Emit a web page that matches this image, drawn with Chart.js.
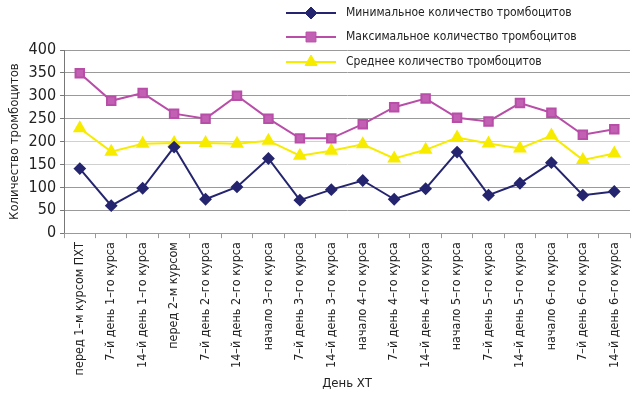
<!DOCTYPE html>
<html>
<head>
<meta charset="utf-8">
<script src="https://cdn.jsdelivr.net/npm/chart.js@4.4.1/dist/chart.umd.min.js"></script>
<style>
  html, body { margin: 0; padding: 0; background: #fff; }
  #wrap { width: 638px; height: 395px; }
</style>
</head>
<body>
<div id="wrap"><canvas id="grafica" width="638" height="395"></canvas></div>
<script>
const dias = [
    'перед 1\u2013м курсом ПХТ', '7\u2013й день 1\u2013го курса', '14\u2013й день 1\u2013го курса',
    'перед 2\u2013м курсом', '7\u2013й день 2\u2013го курса', '14\u2013й день 2\u2013го курса',
    'начало 3\u2013го курса', '7\u2013й день 3\u2013го курса', '14\u2013й день 3\u2013го курса',
    'начало 4\u2013го курса', '7\u2013й день 4\u2013го курса', '14\u2013й день 4\u2013го курса',
    'начало 5\u2013го курса', '7\u2013й день 5\u2013го курса', '14\u2013й день 5\u2013го курса',
    'начало 6\u2013го курса', '7\u2013й день 6\u2013го курса', '14\u2013й день 6\u2013го курса'
];
const minimo = [141, 60, 98, 188, 74, 101, 163, 72, 95, 115, 74, 97, 177, 83, 109, 154, 83, 91];
const maximo = [349, 289, 306, 261, 250, 300, 250, 207, 207, 238, 275, 294, 252, 244, 284, 263, 215, 227];
const media = [229, 178, 195, 197, 197, 195, 202, 169, 180, 194, 163, 182, 209, 196, 185, 213, 160, 174];
const ticksY = [0, 50, 100, 150, 200, 250, 300, 350, 400];

const fuente = "'Liberation Sans Narrow', 'DejaVu Sans Condensed', sans-serif";
const colorTexto = '#222222';

const leyenda = {
    id: 'leyendaLineas',
    afterDraw(grafica) {
        const ctx = grafica.ctx;
        const filas = [13, 37, 62];
        ctx.save();
        grafica.data.datasets.forEach((ds, i) => {
            const y = filas[i];
            ctx.strokeStyle = ds.borderColor;
            ctx.lineWidth = 2;
            ctx.beginPath();
            ctx.moveTo(286, y);
            ctx.lineTo(336, y);
            ctx.stroke();
            ctx.fillStyle = ds.pointBackgroundColor;
            ctx.strokeStyle = ds.pointBorderColor;
            ctx.lineWidth = 1;
            Chart.helpers.drawPoint(ctx, { pointStyle: ds.pointStyle, radius: ds.pointRadius + 1, rotation: 0, borderWidth: 1 }, 311, y);
            ctx.fillStyle = colorTexto;
            ctx.font = '12px ' + fuente;
            ctx.textBaseline = 'middle';
            ctx.textAlign = 'left';
            ctx.fillText(ds.label, 346, y);
        });
        ctx.restore();
    }
};

new Chart(document.getElementById('grafica'), {
    type: 'line',
    data: {
        labels: dias,
        datasets: [{
            label: 'Минимальное количество тромбоцитов',
            data: minimo,
            borderColor: '#25256f',
            borderWidth: 2,
            pointStyle: 'rectRot',
            pointRadius: 5,
            pointBackgroundColor: '#25256f',
            pointBorderColor: '#25256f',
            tension: 0
        }, {
            label: 'Максимальное количество тромбоцитов',
            data: maximo,
            borderColor: '#b84ea8',
            borderWidth: 2,
            pointStyle: 'rect',
            pointRadius: 6,
            pointBackgroundColor: '#c260b4',
            pointBorderColor: '#b84ea8',
            tension: 0
        }, {
            label: 'Среднее количество тромбоцитов',
            data: media,
            borderColor: '#f7ec00',
            borderWidth: 2,
            pointStyle: 'triangle',
            pointRadius: 6,
            pointBackgroundColor: '#f7ec00',
            pointBorderColor: '#f7ec00',
            tension: 0
        }]
    },
    options: {
        responsive: false,
        animation: false,
        layout: { padding: { top: 50, right: 3, left: 7, bottom: 0 } },
        plugins: {
            legend: { display: false },
            tooltip: { enabled: false }
        },
        scales: {
            y: {
                min: 0,
                max: 400,
                afterBuildTicks: (eje) => { eje.ticks = ticksY.map(v => ({ value: v })); },
                grid: {
                    color: (c) => (c.tick && (c.tick.value === 150 || c.tick.value === 200)) ? '#d0d0d0' : '#9a9a9a',
                    tickLength: 4,
                    tickColor: '#777777'
                },
                border: { color: '#777777', width: 1 },
                ticks: {
                    color: colorTexto,
                    font: { family: fuente, size: 16 },
                    padding: 4
                },
                title: {
                    display: true,
                    text: 'Количество тромбоцитов',
                    color: colorTexto,
                    font: { family: fuente, size: 13 },
                    padding: { top: 0, bottom: 2 }
                }
            },
            x: {
                offset: true,
                grid: {
                    offset: true,
                    drawOnChartArea: false,
                    tickLength: 5,
                    tickColor: '#999999'
                },
                border: { color: '#999999', width: 1 },
                ticks: {
                    color: colorTexto,
                    font: { family: fuente, size: 12.5 },
                    maxRotation: 90,
                    minRotation: 90,
                    autoSkip: false,
                    padding: 4
                },
                title: {
                    display: true,
                    text: 'День ХТ',
                    color: colorTexto,
                    font: { family: fuente, size: 13 },
                    padding: { top: -4, bottom: 4 }
                }
            }
        }
    },
    plugins: [leyenda]
});
</script>
</body>
</html>
